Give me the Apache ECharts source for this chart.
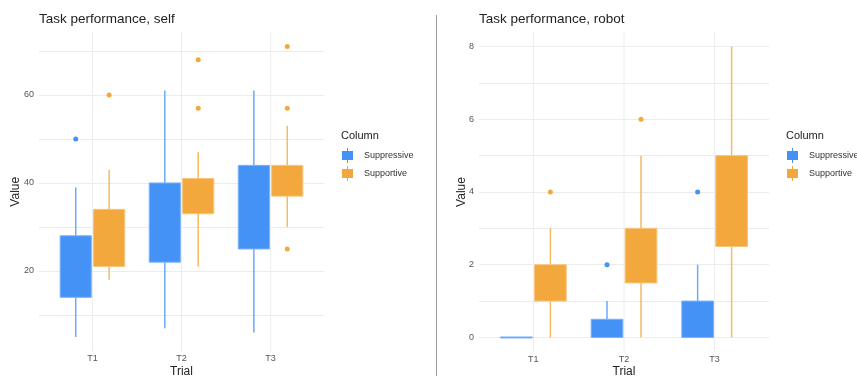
<!DOCTYPE html>
<html>
<head>
<meta charset="utf-8">
<script src="https://cdn.jsdelivr.net/npm/echarts@6/dist/echarts.min.js"></script>
<style>
  html, body { margin: 0; padding: 0; background: #ffffff; }
  #chart { width: 857px; height: 376px; }
</style>
</head>
<body>
<div id="chart"></div>
<script>
// Trial categories
const trials = ['T1', 'T2', 'T3'];

// Task performance, self — Suppressive
const selfSuppLow  = [5, 7, 6];
const selfSuppQ1   = [14, 22, 25];
const selfSuppQ3   = [28, 40, 44];
const selfSuppHigh = [39, 61, 61];
const selfSuppOut  = [['T1', 50]];

// Task performance, self — Supportive
const selfSupLow  = [18, 21, 30];
const selfSupQ1   = [21, 33, 37];
const selfSupQ3   = [34, 41, 44];
const selfSupHigh = [43, 47, 53];
const selfSupOut  = [['T1', 60], ['T2', 57], ['T2', 68], ['T3', 25], ['T3', 57], ['T3', 71]];

// Task performance, robot — Suppressive
const robotSuppLow  = [0, 0, 0];
const robotSuppQ1   = [0, 0, 0];
const robotSuppQ3   = [0, 0.5, 1];
const robotSuppHigh = [0, 1, 2];
const robotSuppOut  = [['T2', 2], ['T3', 4]];

// Task performance, robot — Supportive
const robotSupLow  = [0, 0, 0];
const robotSupQ1   = [1, 1.5, 2.5];
const robotSupQ3   = [2, 3, 5];
const robotSupHigh = [3, 5, 8];
const robotSupOut  = [['T1', 4], ['T2', 6]];

const FONT = '"Liberation Sans", Arial, Helvetica, sans-serif';
const BLUE = '#4592f7', BLUE_LINE = '#6aabfb', BLUE_EDGE = '#79b3fb';
const ORANGE = '#f2a83d', ORANGE_LINE = '#f5ba63', ORANGE_EDGE = '#f6c47c';
const GRID_COLOR = '#ececec';
const BOX_W = 0.35;
const DODGE = 0.1875;

function boxSeries(name, gi, offset, low, q1, q3, high, fill, line, edge) {
  return {
    name: name,
    type: 'custom',
    xAxisIndex: gi,
    yAxisIndex: gi,
    z: 3,
    itemStyle: { color: fill },
    data: trials.map((t, i) => [i + 1, low[i], q1[i], q3[i], high[i]]),
    encode: { x: 0, y: [1, 2, 3, 4] },
    renderItem: function (params, api) {
      const x = api.value(0) + offset;
      const pLow = api.coord([x, api.value(1)]);
      const pQ1 = api.coord([x, api.value(2)]);
      const pQ3 = api.coord([x, api.value(3)]);
      const pHigh = api.coord([x, api.value(4)]);
      const w = api.size([BOX_W, 0])[0];
      const children = [];
      if (api.value(4) > api.value(3)) {
        children.push({ type: 'line', shape: { x1: pQ3[0], y1: pQ3[1], x2: pHigh[0], y2: pHigh[1] },
          style: { stroke: line, lineWidth: 1.5 } });
      }
      if (api.value(1) < api.value(2)) {
        children.push({ type: 'line', shape: { x1: pQ1[0], y1: pQ1[1], x2: pLow[0], y2: pLow[1] },
          style: { stroke: line, lineWidth: 1.5 } });
      }
      const h = Math.max(pQ1[1] - pQ3[1], 1);
      children.push({ type: 'rect', shape: { x: pQ3[0] - w / 2, y: pQ3[1] - (h === 1 ? 0.5 : 0), width: w, height: h },
        style: { fill: fill, stroke: edge, lineWidth: 1 } });
      return { type: 'group', children: children };
    }
  };
}

function outlierSeries(name, gi, offset, points, color) {
  return {
    name: name,
    type: 'scatter',
    xAxisIndex: gi,
    yAxisIndex: gi,
    z: 4,
    symbolSize: 5,
    itemStyle: { color: color, opacity: 1 },
    data: points.map(p => [trials.indexOf(p[0]) + 1 + offset, p[1]])
  };
}

function vGridSeries(gi) {
  return {
    type: 'custom',
    xAxisIndex: gi,
    yAxisIndex: gi,
    silent: true,
    z: 1,
    data: trials.map((t, i) => [i + 1]),
    encode: { x: 0 },
    renderItem: function (params, api) {
      const cs = params.coordSys;
      const x = api.coord([api.value(0), 0])[0];
      return { type: 'line', shape: { x1: x, y1: cs.y, x2: x, y2: cs.y + cs.height },
        style: { stroke: GRID_COLOR, lineWidth: 1 } };
    }
  };
}

function xAxisFor(gi) {
  return {
    type: 'value', gridIndex: gi, min: 0.4, max: 3.6,
    name: 'Trial', nameLocation: 'middle', nameGap: 14, nameMoveOverlap: false,
    nameTextStyle: { fontFamily: FONT, fontSize: 12, color: '#222' },
    axisLine: { show: false, onZero: false }, axisTick: { show: false }, splitLine: { show: false },
    axisLabel: { customValues: [1, 2, 3], formatter: v => trials[Math.round(v) - 1] || '',
      fontFamily: FONT, fontSize: 9, color: '#555', margin: 3 }
  };
}

function yAxisFor(gi, min, max, splitNumber, labelStep, gap) {
  return {
    type: 'value', gridIndex: gi, min: min, max: max, splitNumber: splitNumber,
    name: 'Value', nameLocation: 'middle', nameGap: gap, nameMoveOverlap: false,
    nameTextStyle: { fontFamily: FONT, fontSize: 12, color: '#222' },
    axisLine: { show: false }, axisTick: { show: false },
    splitLine: { show: true, showMinLine: false, showMaxLine: false, lineStyle: { color: GRID_COLOR, width: 1 } },
    axisLabel: { showMinLabel: false, showMaxLabel: false, fontFamily: FONT, fontSize: 9, color: '#555', margin: 5,
      formatter: v => (Math.abs(v / labelStep - Math.round(v / labelStep)) < 1e-6 ? String(v) : '') }
  };
}

const legendIcon = 'path://M5,0 L6,0 L6,3 L11,3 L11,12 L6,12 L6,15 L5,15 L5,12 L0,12 L0,3 L5,3 Z';

function legendFor(left) {
  return {
    orient: 'vertical', left: left, top: 148, padding: 0, itemWidth: 11, itemHeight: 15, itemGap: 3,
    icon: legendIcon,
    textStyle: { fontFamily: FONT, fontSize: 9, color: '#333', padding: [0, 0, 0, 6] },
    data: [
      { name: 'Suppressive', itemStyle: { color: BLUE } },
      { name: 'Supportive', itemStyle: { color: ORANGE } }
    ]
  };
}

const titleText = { fontFamily: FONT, fontSize: 13.5, fontWeight: 'normal', color: '#222' };
const legendTitleText = { fontFamily: FONT, fontSize: 11, fontWeight: 'normal', color: '#222' };

const chart = echarts.init(document.getElementById('chart'), null, { renderer: 'canvas' });
chart.setOption({
  backgroundColor: '#ffffff',
  animation: false,
  title: [
    { text: 'Task performance, self', left: 39, top: 12, padding: 0, textStyle: titleText },
    { text: 'Task performance, robot', left: 479, top: 12, padding: 0, textStyle: titleText },
    { text: 'Column', left: 341, top: 130, padding: 0, textStyle: legendTitleText },
    { text: 'Column', left: 786, top: 130, padding: 0, textStyle: legendTitleText }
  ],
  legend: [legendFor(342), legendFor(787)],
  grid: [
    { left: 39, top: 32, width: 285, height: 319.5, outerBoundsMode: 'none', containLabel: false },
    { left: 479, top: 32, width: 290, height: 320, outerBoundsMode: 'none', containLabel: false }
  ],
  xAxis: [xAxisFor(0), xAxisFor(1)],
  yAxis: [yAxisFor(0, 1.7, 74.3, 5, 20, 17), yAxisFor(1, -0.4, 8.4, 9, 2, 11)],
  graphic: [
    { type: 'line', shape: { x1: 436.5, y1: 15, x2: 436.5, y2: 376 }, style: { stroke: '#9a9a9a', lineWidth: 1 }, silent: true }
  ],
  series: [
    vGridSeries(0),
    vGridSeries(1),
    boxSeries('Suppressive', 0, -DODGE, selfSuppLow, selfSuppQ1, selfSuppQ3, selfSuppHigh, BLUE, BLUE_LINE, BLUE_EDGE),
    boxSeries('Supportive', 0, DODGE, selfSupLow, selfSupQ1, selfSupQ3, selfSupHigh, ORANGE, ORANGE_LINE, ORANGE_EDGE),
    boxSeries('Suppressive', 1, -DODGE, robotSuppLow, robotSuppQ1, robotSuppQ3, robotSuppHigh, BLUE, BLUE_LINE, BLUE_EDGE),
    boxSeries('Supportive', 1, DODGE, robotSupLow, robotSupQ1, robotSupQ3, robotSupHigh, ORANGE, ORANGE_LINE, ORANGE_EDGE),
    outlierSeries('Suppressive', 0, -DODGE, selfSuppOut, BLUE),
    outlierSeries('Supportive', 0, DODGE, selfSupOut, ORANGE),
    outlierSeries('Suppressive', 1, -DODGE, robotSuppOut, BLUE),
    outlierSeries('Supportive', 1, DODGE, robotSupOut, ORANGE)
  ]
});
</script>
</body>
</html>
